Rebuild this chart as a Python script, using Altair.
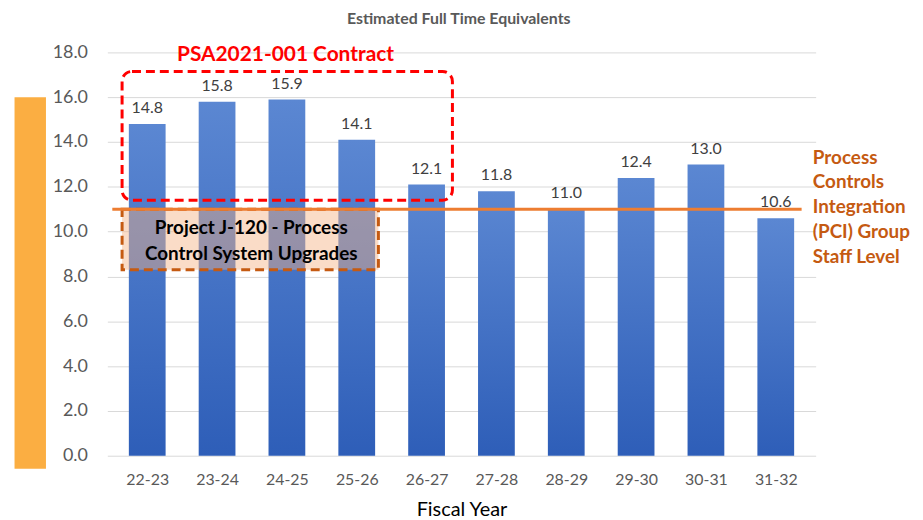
import altair as alt
import pandas as pd

years = ["22-23", "23-24", "24-25", "25-26", "26-27", "27-28", "28-29", "29-30", "30-31", "31-32"]
fte = [14.8, 15.8, 15.9, 14.1, 12.1, 11.8, 11.0, 12.4, 13.0, 10.6]
staff_level = 11.0

FONT = "Lato"

bars_df = pd.DataFrame({"i": list(range(len(years))), "year": years, "fte": fte})

xs = alt.Scale(domain=[-0.5, 9.5], nice=False, zero=False)
ys = alt.Scale(domain=[0, 18], nice=False)

label_expr = "[" + ",".join("'" + y + "'" for y in years) + "][datum.value]"

base = alt.Chart(bars_df)

bars = base.mark_bar(
    size=37,
    color=alt.Gradient(
        gradient="linear",
        stops=[alt.GradientStop(color="#5B87D2", offset=0), alt.GradientStop(color="#2E5EB8", offset=1)],
        x1=0, x2=0, y1=0, y2=1,
    ),
).encode(
    x=alt.X("i:Q", scale=xs, axis=alt.Axis(
        values=list(range(len(years))), labelExpr=label_expr, title="Fiscal Year",
        grid=False, domain=False, ticks=False, labelFont=FONT, labelFontSize=16,
        labelColor="#595959", labelPadding=16, titleFont=FONT, titleFontSize=20,
        titleColor="#000000", titleFontWeight="normal", titlePadding=12)),
    y=alt.Y("fte:Q", scale=ys, axis=alt.Axis(
        values=list(range(0, 19, 2)), format=".1f", title=None, domain=False, ticks=False,
        gridColor="#D9D9D9", gridWidth=1, labelFont=FONT, labelFontSize=18,
        labelColor="#595959", labelPadding=20)),
)

labels = base.mark_text(baseline="bottom", dy=-8, font=FONT, fontSize=16, color="#404040").encode(
    x=alt.X("i:Q", scale=xs),
    y=alt.Y("fte:Q", scale=ys),
    text=alt.Text("fte:Q", format=".1f"),
)

# side decoration bar
side_df = pd.DataFrame({"x": [-1.9], "x2": [-1.45], "y": [16.0], "y2": [-0.58]})
side = alt.Chart(side_df).mark_rect(color="#FBAE42").encode(
    x=alt.X("x:Q", scale=xs), x2="x2:Q", y=alt.Y("y:Q", scale=ys), y2="y2:Q")

# Project J-120 box
proj_df = pd.DataFrame({"x": [-0.36], "x2": [3.31], "y": [11.0], "y2": [8.3]})
proj_box = alt.Chart(proj_df).mark_rect(
    fill="#F4B183", fillOpacity=0.45, stroke="#C55A11", strokeWidth=3, strokeDash=[9, 5]
).encode(x=alt.X("x:Q", scale=xs), x2="x2:Q", y=alt.Y("y:Q", scale=ys), y2="y2:Q")

proj_text_df = pd.DataFrame({"x": [1.49], "y": [10.15], "t": ["Project J-120 - Process\nControl System Upgrades"]})
proj_text = alt.Chart(proj_text_df).mark_text(
    font=FONT, fontSize=19, fontWeight="bold", color="#000000", lineBreak="\n", lineHeight=26,
    baseline="middle", align="center"
).encode(x=alt.X("x:Q", scale=xs), y=alt.Y("y:Q", scale=ys), text="t:N")

# staff level line
line_df = pd.DataFrame({"x": [-0.5], "x2": [9.37], "y": [staff_level]})
staff_line = alt.Chart(line_df).mark_rule(color="#ED7D31", strokeWidth=3).encode(
    x=alt.X("x:Q", scale=xs), x2="x2:Q", y=alt.Y("y:Q", scale=ys))

staff_text_df = pd.DataFrame({"x": [9.53], "y": [13.3],
                              "t": ["Process\nControls\nIntegration\n(PCI) Group\nStaff Level"]})
staff_text = alt.Chart(staff_text_df).mark_text(
    font=FONT, fontSize=19, fontWeight="bold", color="#C55A11", lineBreak="\n", lineHeight=25,
    baseline="middle", align="left"
).encode(x=alt.X("x:Q", scale=xs), y=alt.Y("y:Q", scale=ys), text="t:N")

# PSA contract box
psa_df = pd.DataFrame({"x": [-0.36], "x2": [4.37], "y": [17.15], "y2": [11.4]})
psa_box = alt.Chart(psa_df).mark_rect(
    fill=None, stroke="#FF0000", strokeWidth=3, strokeDash=[9, 5], cornerRadius=10
).encode(x=alt.X("x:Q", scale=xs), x2="x2:Q", y=alt.Y("y:Q", scale=ys), y2="y2:Q")

psa_text_df = pd.DataFrame({"x": [1.98], "y": [17.86], "t": ["PSA2021-001 Contract"]})
psa_text = alt.Chart(psa_text_df).mark_text(
    font=FONT, fontSize=21, fontWeight="bold", color="#FF0000", baseline="middle", align="center"
).encode(x=alt.X("x:Q", scale=xs), y=alt.Y("y:Q", scale=ys), text="t:N")

title_df = pd.DataFrame({"x": [4.46], "y": [19.5], "t": ["Estimated Full Time Equivalents"]})
title = alt.Chart(title_df).mark_text(
    font=FONT, fontSize=16, fontWeight="bold", color="#595959", baseline="middle", align="center"
).encode(x=alt.X("x:Q", scale=xs), y=alt.Y("y:Q", scale=ys), text="t:N")

chart = alt.layer(
    side, bars, labels, proj_box, staff_line, proj_text, psa_box, psa_text, staff_text, title
).properties(
    width=713, height=406,
    autosize=alt.AutoSizeParams(type="none"),
    padding={"left": 100, "top": 43, "right": 100, "bottom": 62},
).configure_view(stroke=None)

chart.save("out.html", embed_options={"renderer": "svg", "actions": False})
